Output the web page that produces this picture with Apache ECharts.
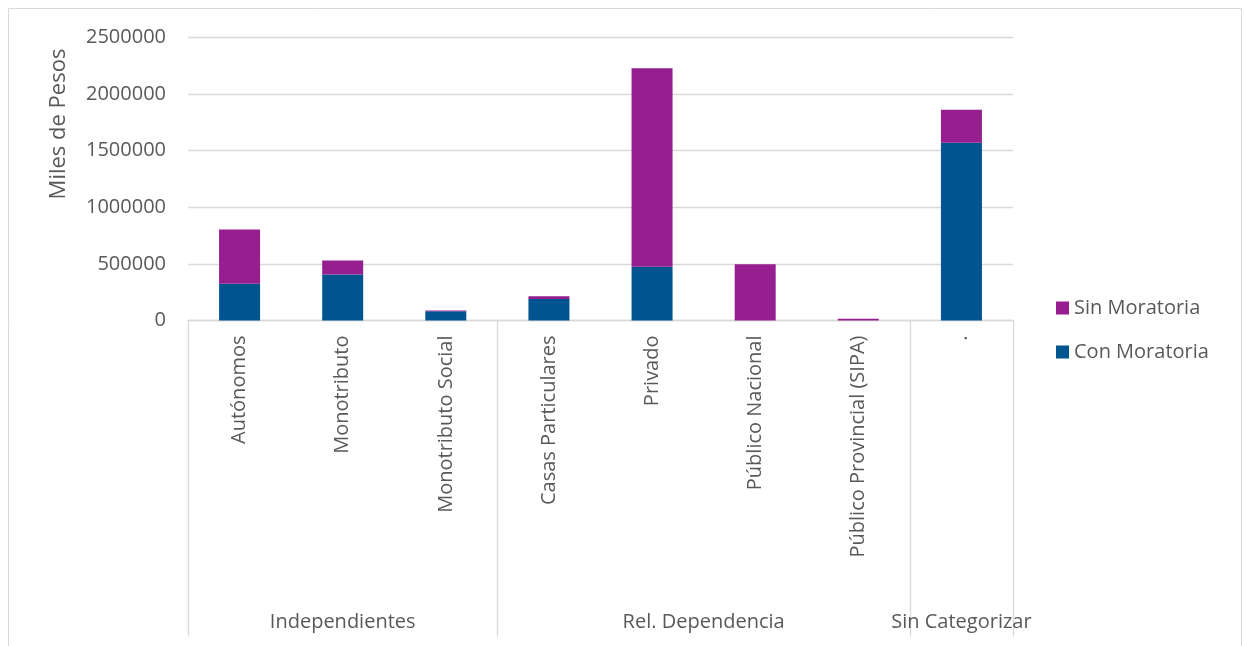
<!DOCTYPE html>
<html>
<head>
<meta charset="utf-8">
<script src="https://cdn.jsdelivr.net/npm/echarts@6/dist/echarts.min.js"></script>
<style>
html,body{margin:0;padding:0;background:#fff;}
#chart{width:1244px;height:646px;}
</style>
</head>
<body>
<div id="chart"></div>
<script>
var categories = ['Autónomos', 'Monotributo', 'Monotributo Social', 'Casas Particulares', 'Privado', 'Público Nacional', 'Público Provincial (SIPA)', '.'];
var groups = ['Independientes', 'Rel. Dependencia', 'Sin Categorizar'];
var groupSpans = [3, 4, 1];
var conMoratoria = [324000, 406000, 82000, 190000, 474000, 0, 0, 1570000];
var sinMoratoria = [480000, 124000, 6000, 24000, 1755000, 497000, 15000, 291000];
var yTicks = [0, 500000, 1000000, 1500000, 2000000, 2500000];

var boundaries = [0];
var groupCenters = [];
var acc = 0;
groupSpans.forEach(function (s) {
  groupCenters.push(acc + s / 2);
  acc += s;
  boundaries.push(acc);
});

var FONT = '"Open Sans", "Noto Sans", sans-serif';
var TXT = '#595959';
var GRID = '#d9d9d9';

var chart = echarts.init(document.getElementById('chart'));
chart.setOption({
  animation: false,
  backgroundColor: '#fff',
  textStyle: { fontFamily: FONT },
  grid: { left: 188, right: 231, top: 37.5, bottom: 325.5, containLabel: false },
  legend: {
    orient: 'vertical',
    left: 1051,
    top: 293,
    itemWidth: 13,
    itemHeight: 13,
    itemGap: 24,
    icon: 'rect',
    data: ['Sin Moratoria', 'Con Moratoria'],
    textStyle: { color: TXT, fontSize: 20, fontFamily: FONT, lineHeight: 20 }
  },
  xAxis: [
    {
      type: 'category',
      data: categories,
      axisLine: { show: true, lineStyle: { color: GRID, width: 1.3 } },
      axisTick: { show: false },
      axisLabel: { rotate: 90, margin: 15, color: TXT, fontSize: 20, fontFamily: FONT, interval: 0 }
    },
    {
      type: 'value',
      min: 0,
      max: categories.length,
      position: 'bottom',
      axisLine: { show: false },
      splitLine: { show: false },
      axisTick: { show: true, customValues: boundaries, length: 316, lineStyle: { color: GRID, width: 1.3 } },
      axisLabel: {
        show: true,
        customValues: groupCenters,
        margin: 292,
        color: TXT,
        fontSize: 20,
        fontFamily: FONT,
        formatter: function (v) {
          var i = groupCenters.indexOf(v);
          return i >= 0 ? groups[i] : '';
        }
      }
    }
  ],
  yAxis: {
    type: 'value',
    min: yTicks[0],
    max: yTicks[yTicks.length - 1],
    interval: yTicks[1] - yTicks[0],
    axisLine: { show: false },
    axisTick: { show: false },
    splitLine: { show: true, lineStyle: { color: GRID, width: 1.3 } },
    axisLabel: {
      margin: 22, color: TXT, fontSize: 20, fontFamily: FONT,
      formatter: function (v) { return String(v); }
    }
  },
  series: [
    {
      name: 'Con Moratoria',
      type: 'bar',
      stack: 'total',
      barWidth: 41,
      xAxisIndex: 0,
      itemStyle: { color: '#00548F' },
      data: conMoratoria
    },
    {
      name: 'Sin Moratoria',
      type: 'bar',
      stack: 'total',
      barWidth: 41,
      xAxisIndex: 0,
      itemStyle: { color: '#951F8F' },
      data: sinMoratoria
    }
  ],
  graphic: [
    {
      type: 'rect',
      shape: { x: 8.5, y: 8.5, width: 1233, height: 660 },
      style: { fill: 'none', stroke: GRID, lineWidth: 1 },
      silent: true
    },
    {
      type: 'text',
      x: 59,
      y: 124,
      rotation: Math.PI / 2,
      style: {
        text: 'Miles de Pesos',
        fill: TXT,
        font: '22px ' + FONT,
        textAlign: 'center',
        textVerticalAlign: 'middle'
      }
    }
  ]
});
</script>
</body>
</html>
